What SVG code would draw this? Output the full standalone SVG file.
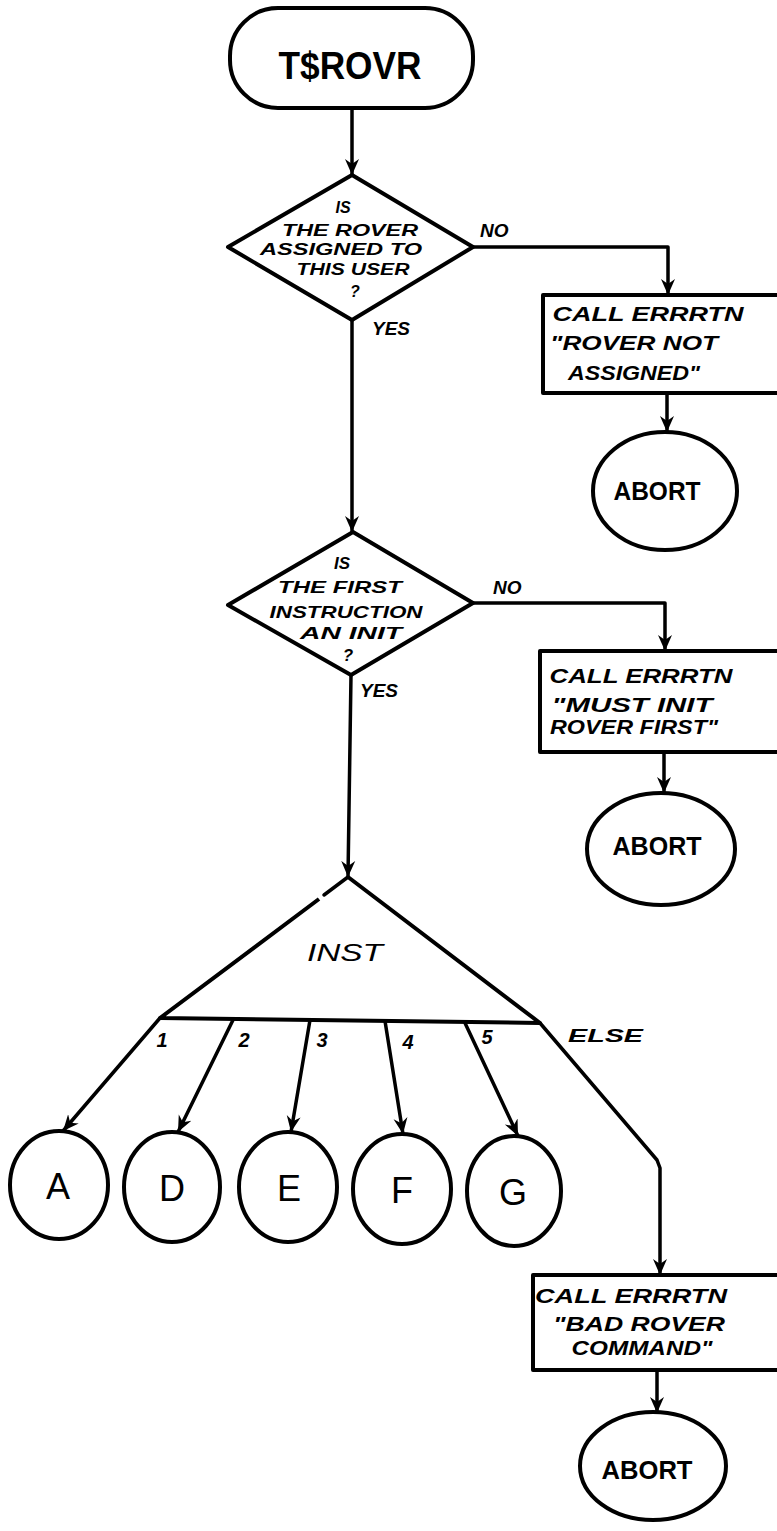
<svg xmlns="http://www.w3.org/2000/svg" width="777" height="1531" viewBox="0 0 777 1531">
  <defs>
    <marker id="arrow" markerUnits="userSpaceOnUse" markerWidth="18" markerHeight="18" viewBox="0 0 18 18" refX="16" refY="9" orient="auto">
      <path d="M0,2 L16,9 L0,16 L5,9 Z" fill="#000"/>
    </marker>
  </defs>
  <style>
    .shape { fill: #fff; stroke: #000; stroke-width: 4; stroke-linejoin: round; }
    .line { fill: none; stroke: #000; stroke-width: 3.5; stroke-linejoin: round; stroke-linecap: round; }
    .arr { marker-end: url(#arrow); }
    text { font-family: "Liberation Sans", Arial, sans-serif; fill: #000; }
    .hand { font-weight: bold; font-style: italic; text-anchor: middle; }
    .d1 { font-size: 16px; }
    .d2 { font-size: 17px; }
    .box { font-size: 21px; }
    .lbl { font-size: 19px; font-weight: bold; font-style: italic; }
    .big { font-weight: bold; text-anchor: middle; }
    .term { font-size: 38px; }
    .abort { font-size: 26px; }
    .letter { font-size: 36px; font-weight: normal; }
    .case { font-size: 24px; font-style: italic; text-anchor: middle; }
    .num { font-size: 20px; font-style: italic; font-weight: bold; text-anchor: middle; }
  </style>

  <!-- connectors -->
  <g id="connectors">
    <path class="line arr" d="M352,108 L352,175"/>
    <path class="line arr" d="M352,320 L352,532"/>
    <path class="line arr" d="M351,675 L348,877"/>
    <path class="line arr" d="M473,247 L668,247 L668,295"/>
    <path class="line arr" d="M667,393 L667,432"/>
    <path class="line arr" d="M473,603 L665,603 L665,651"/>
    <path class="line arr" d="M664,752 L664,793"/>
    <path class="line arr" d="M160,1018 L63,1131"/>
    <path class="line arr" d="M233,1020 L178,1132"/>
    <path class="line arr" d="M310,1020 L291,1132"/>
    <path class="line arr" d="M385,1021 L403,1134"/>
    <path class="line arr" d="M465,1023 L518,1136"/>
    <path class="line arr" d="M540,1023 L657,1160 L660,1168 L660,1275"/>
    <path class="line arr" d="M657,1370 L657,1413"/>
    <text class="lbl" x="480" y="237">NO</text>
    <text class="lbl" x="372" y="335">YES</text>
    <text class="lbl" x="493" y="594">NO</text>
    <text class="lbl" x="360" y="697">YES</text>
    <text class="num" x="162" y="1047">1</text>
    <text class="num" x="244" y="1047">2</text>
    <text class="num" x="322" y="1047">3</text>
    <text class="num" x="408" y="1049">4</text>
    <text class="num" x="487" y="1044">5</text>
    <text class="lbl" x="568" y="1042" textLength="75" lengthAdjust="spacingAndGlyphs">ELSE</text>
  </g>

  <!-- entry terminal -->
  <g id="start">
    <rect class="shape" x="230" y="8" width="243" height="100" rx="48" ry="48"/>
    <text class="big term" x="350" y="79" textLength="143" lengthAdjust="spacingAndGlyphs">T$ROVR</text>
  </g>

  <!-- rover assignment check -->
  <g id="check-assigned">
    <path class="shape" d="M352,175 L473,247 L352,320 L228,247 Z"/>
    <text class="hand d1" x="343" y="213">IS</text>
    <text class="hand d1" x="350" y="236" textLength="136" lengthAdjust="spacingAndGlyphs">THE ROVER</text>
    <text class="hand d1" x="341" y="255" textLength="162" lengthAdjust="spacingAndGlyphs">ASSIGNED TO</text>
    <text class="hand d1" x="353" y="275" textLength="113" lengthAdjust="spacingAndGlyphs">THIS USER</text>
    <text class="hand d1" x="355" y="297">?</text>
  </g>

  <g id="err-not-assigned">
    <rect class="shape" x="543" y="295" width="250" height="98"/>
    <text class="hand box" x="648" y="321" textLength="191" lengthAdjust="spacingAndGlyphs">CALL ERRRTN</text>
    <text class="hand box" x="634" y="350" textLength="168" lengthAdjust="spacingAndGlyphs">"ROVER NOT</text>
    <text class="hand box" x="634" y="380" textLength="132" lengthAdjust="spacingAndGlyphs">ASSIGNED"</text>
  </g>

  <g id="abort-1">
    <ellipse class="shape" cx="665" cy="491" rx="72" ry="59"/>
    <text class="big abort" x="657" y="500" textLength="87" lengthAdjust="spacingAndGlyphs">ABORT</text>
  </g>

  <!-- first instruction check -->
  <g id="check-init">
    <path class="shape" d="M353,532 L473,603 L351,675 L228,605 Z"/>
    <text class="hand d2" x="342" y="569">IS</text>
    <text class="hand d2" x="340" y="593" textLength="124" lengthAdjust="spacingAndGlyphs">THE FIRST</text>
    <text class="hand d2" x="346" y="618" textLength="153" lengthAdjust="spacingAndGlyphs">INSTRUCTION</text>
    <text class="hand d2" x="351" y="639" textLength="102" lengthAdjust="spacingAndGlyphs">AN INIT</text>
    <text class="hand d2" x="348" y="661">?</text>
  </g>

  <g id="err-must-init">
    <rect class="shape" x="540" y="651" width="253" height="101"/>
    <text class="hand box" x="641" y="683" textLength="183" lengthAdjust="spacingAndGlyphs">CALL ERRRTN</text>
    <text class="hand box" x="632" y="712" textLength="161" lengthAdjust="spacingAndGlyphs">"MUST INIT</text>
    <text class="hand box" x="634" y="734" textLength="168" lengthAdjust="spacingAndGlyphs">ROVER FIRST"</text>
  </g>

  <g id="abort-2">
    <ellipse class="shape" cx="661" cy="849" rx="74" ry="56"/>
    <text class="big abort" x="657" y="855" textLength="89" lengthAdjust="spacingAndGlyphs">ABORT</text>
  </g>

  <!-- case selector on instruction -->
  <g id="case-inst">
    <path class="shape" d="M348,877 L540,1023 L160,1018 L319,899"/>
    <line class="line" x1="348" y1="877" x2="324" y2="895" stroke-width="4"/>
    <text class="case" x="345" y="961" textLength="76" lengthAdjust="spacingAndGlyphs">INST</text>
  </g>

  <g id="conn-a">
    <ellipse class="shape" cx="59" cy="1185" rx="49" ry="54"/>
    <text class="big letter" x="58" y="1199">A</text>
  </g>
  <g id="conn-d">
    <ellipse class="shape" cx="172" cy="1187" rx="48" ry="55"/>
    <text class="big letter" x="172" y="1201">D</text>
  </g>
  <g id="conn-e">
    <ellipse class="shape" cx="288" cy="1187" rx="49" ry="55"/>
    <text class="big letter" x="289" y="1201">E</text>
  </g>
  <g id="conn-f">
    <ellipse class="shape" cx="402" cy="1189" rx="49" ry="55"/>
    <text class="big letter" x="402" y="1203">F</text>
  </g>
  <g id="conn-g">
    <ellipse class="shape" cx="514" cy="1191" rx="47" ry="55"/>
    <text class="big letter" x="513" y="1205">G</text>
  </g>

  <g id="err-bad-command">
    <rect class="shape" x="533" y="1275" width="260" height="95"/>
    <text class="hand box" x="631" y="1303" textLength="192" lengthAdjust="spacingAndGlyphs">CALL ERRRTN</text>
    <text class="hand box" x="639" y="1331" textLength="172" lengthAdjust="spacingAndGlyphs">"BAD ROVER</text>
    <text class="hand box" x="642" y="1355" textLength="141" lengthAdjust="spacingAndGlyphs">COMMAND"</text>
  </g>

  <g id="abort-3">
    <ellipse class="shape" cx="653" cy="1466" rx="73" ry="54"/>
    <text class="big abort" x="647" y="1479" textLength="91" lengthAdjust="spacingAndGlyphs">ABORT</text>
  </g>
</svg>
